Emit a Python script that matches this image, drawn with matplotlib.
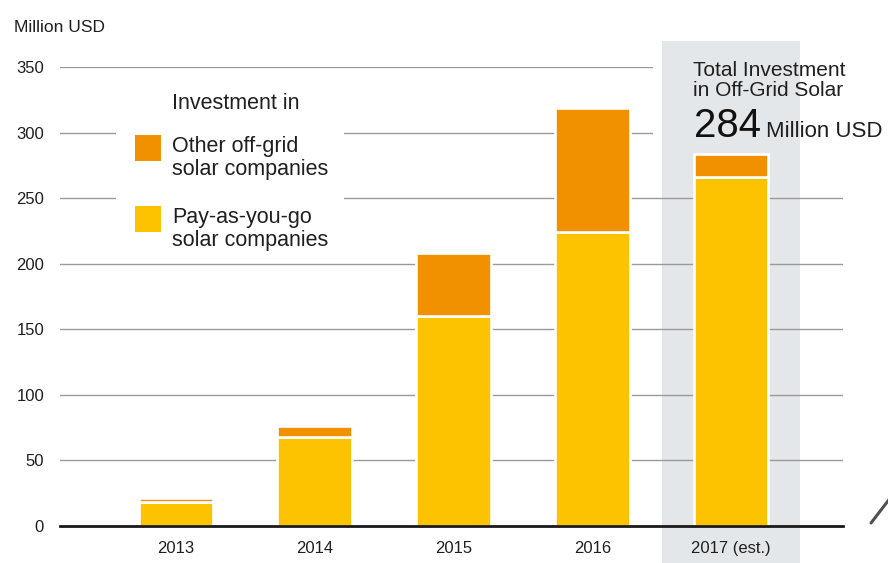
import matplotlib
matplotlib.use("Agg")
import matplotlib.pyplot as plt
from matplotlib.patches import Rectangle
from matplotlib.lines import Line2D
import numpy as np

# Investment in off-grid solar, million USD
years = ["2013", "2014", "2015", "2016", "2017 (est.)"]
payg = [18, 68, 160, 224, 266]            # pay-as-you-go solar companies
other_offgrid = [3.5, 8, 48, 95, 18]      # other off-grid solar companies
yticks = [0, 50, 100, 150, 200, 250, 300, 350]

ORANGE = "#F29100"
YELLOW = "#FDC300"
HILITE = "#E4E7EA"
GRID = "#9a9a9a"
TEXT = "#1f1f1f"

plt.rcParams["font.family"] = ["Liberation Sans", "DejaVu Sans"]

W, H = 888, 563
fig = plt.figure(figsize=(W / 100, H / 100), dpi=100, facecolor="white")


def fx(px):
    return px / W


def fy(py):
    return 1 - py / H


ax = fig.add_axes([fx(60), fy(525.8), fx(843) - fx(60), fy(67.2) - fy(525.8)])
ax.patch.set_visible(False)
x = np.arange(len(years))
ax.set_xlim(-0.836, 4.807)
ax.set_ylim(0, 350)

# grid and axes styling
ax.set_yticks(yticks)
ax.set_yticklabels([str(v) for v in yticks])
ax.set_xticks(x)
ax.set_xticklabels(years)
ax.set_axisbelow(True)
ax.yaxis.grid(True, color=GRID, linewidth=1.0)
ax.tick_params(axis="y", length=0, pad=11.5, labelsize=12, labelcolor=TEXT)
ax.tick_params(axis="x", length=0, pad=11, labelsize=12, labelcolor=TEXT)
for side in ("top", "right", "left"):
    ax.spines[side].set_visible(False)
ax.spines["bottom"].set_color("#1a1a1a")
ax.spines["bottom"].set_linewidth(2.0)
ax.spines["bottom"].set_zorder(3)

# highlighted estimate column
ax.add_patch(Rectangle((3.5, -30), 1.0, 400.3, facecolor=HILITE,
                       edgecolor="none", zorder=0.2, clip_on=False))

# backgrounds behind the legend and the total annotation
ax.add_patch(Rectangle((-0.432, 211), 1.643, 130, facecolor="white",
                       edgecolor="none", zorder=1))
ax.add_patch(Rectangle((3.438, 290), 0.062, 80, facecolor="white",
                       edgecolor="none", zorder=1))
ax.add_patch(Rectangle((3.5, 290), 1.0, 80, facecolor=HILITE,
                       edgecolor="none", zorder=1))
ax.add_patch(Rectangle((4.5, 290), 0.4, 80, facecolor="white",
                       edgecolor="none", zorder=1, clip_on=False))

# stacked bars
ax.bar(x, payg, width=0.54, color=YELLOW, edgecolor="white",
       linewidth=1.9, zorder=2)
ax.bar(x, other_offgrid, bottom=payg, width=0.54, color=ORANGE,
       edgecolor="white", linewidth=1.9, zorder=2)

# unit label
fig.text(fx(14), fy(32), "Million USD", size=12.5, color=TEXT, va="baseline")

# legend
fig.add_artist(Rectangle((fx(135), fy(160.7)), fx(161) - fx(135),
                         fy(135) - fy(160.7), transform=fig.transFigure,
                         facecolor=ORANGE, edgecolor="none"))
fig.add_artist(Rectangle((fx(135), fy(231.7)), fx(161) - fx(135),
                         fy(206) - fy(231.7), transform=fig.transFigure,
                         facecolor=YELLOW, edgecolor="none"))
leg_size = 15.5
fig.text(fx(172), fy(109), "Investment in", size=leg_size, color=TEXT, va="baseline")
fig.text(fx(172), fy(152), "Other off-grid", size=leg_size, color=TEXT, va="baseline")
fig.text(fx(172), fy(175), "solar companies", size=leg_size, color=TEXT, va="baseline")
fig.text(fx(172), fy(222.7), "Pay-as-you-go", size=leg_size, color=TEXT, va="baseline")
fig.text(fx(172), fy(245.7), "solar companies", size=leg_size, color=TEXT, va="baseline")

# total for the estimated year
total_2017 = payg[-1] + other_offgrid[-1]
fig.text(fx(693), fy(76), "Total Investment", size=15, color=TEXT, va="baseline")
fig.text(fx(693), fy(96.5), "in Off-Grid Solar", size=15, color=TEXT, va="baseline")
fig.text(fx(694), fy(136.7), f"{total_2017:.0f}", size=29, color="#111111",
         va="baseline")
fig.text(fx(766), fy(136.7), "Million USD", size=16, color=TEXT, va="baseline")

# corner stroke
fig.add_artist(Line2D([fx(871), fx(891)], [fy(523), fy(497)],
                      transform=fig.transFigure, color="#505050",
                      linewidth=2.2, solid_capstyle="round"))

fig.savefig("out.png", dpi=100, facecolor="white")
